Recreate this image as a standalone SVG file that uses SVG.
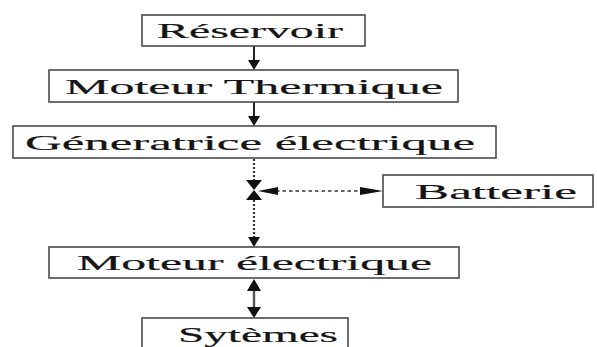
<svg xmlns="http://www.w3.org/2000/svg" width="597" height="347" viewBox="0 0 597 347">
<style>
.box{fill:#fff;stroke:#4a4a4a;stroke-width:1.6}
.lbl{font-family:"Liberation Serif","DejaVu Serif",serif;font-size:22px;fill:#151515;stroke:#151515;stroke-width:0.2}
.solid{stroke:#222;stroke-width:2;fill:none}
.dot{stroke:#333;stroke-width:2.2;stroke-dasharray:2 2;fill:none}
.dash{stroke:#333;stroke-width:1.4;stroke-dasharray:3.5 3;fill:none}
.head{fill:#111}
</style>
<rect width="597" height="347" fill="#fff"/>
<g id="connectors">
  <line class="solid" x1="254" y1="46" x2="254" y2="62"/>
  <polygon class="head" points="248,60 260,60 254,70"/>
  <line class="solid" x1="254" y1="102" x2="254" y2="118"/>
  <polygon class="head" points="248,116 260,116 254,126"/>
  <line class="dot" x1="254" y1="159" x2="254" y2="181"/>
  <polygon class="head" points="246,180 262,180 254,190"/>
  <polygon class="head" points="246,200 262,200 254,190"/>
  <line class="dot" x1="254" y1="200" x2="254" y2="238"/>
  <polygon class="head" points="248,237 260,237 254,247"/>
  <line class="dash" x1="276" y1="191" x2="360" y2="191"/>
  <polygon class="head" points="258,191 278,187 278,195"/>
  <polygon class="head" points="383,191 360,187 360,195"/>
  <line x1="254" y1="288" x2="254" y2="310" stroke="#555" stroke-width="2.4"/>
  <polygon class="head" points="254,279 247,291 261,291"/>
  <polygon class="head" points="254,318 247,307 261,307"/>
</g>
<g id="reservoir">
  <rect class="box" x="142" y="15" width="223" height="31"/>
  <text class="lbl" x="157" y="38" textLength="186" lengthAdjust="spacingAndGlyphs">Réservoir</text>
</g>
<g id="moteur-thermique">
  <rect class="box" x="49" y="70" width="409" height="32"/>
  <text class="lbl" x="65" y="94" textLength="378" lengthAdjust="spacingAndGlyphs">Moteur Thermique</text>
</g>
<g id="generatrice">
  <rect class="box" x="13" y="126" width="483" height="32"/>
  <text class="lbl" x="25" y="150" textLength="450" lengthAdjust="spacingAndGlyphs">Géneratrice électrique</text>
</g>
<g id="batterie">
  <rect class="box" x="383" y="175" width="210" height="32"/>
  <text class="lbl" x="415" y="199" textLength="162" lengthAdjust="spacingAndGlyphs">Batterie</text>
</g>
<g id="moteur-electrique">
  <rect class="box" x="49" y="247" width="410" height="31"/>
  <text class="lbl" x="77" y="270" textLength="355" lengthAdjust="spacingAndGlyphs">Moteur électrique</text>
</g>
<g id="systemes">
  <rect class="box" x="142" y="318" width="206" height="40"/>
  <text class="lbl" x="178" y="342" textLength="160" lengthAdjust="spacingAndGlyphs">Sytèmes</text>
</g>
</svg>
